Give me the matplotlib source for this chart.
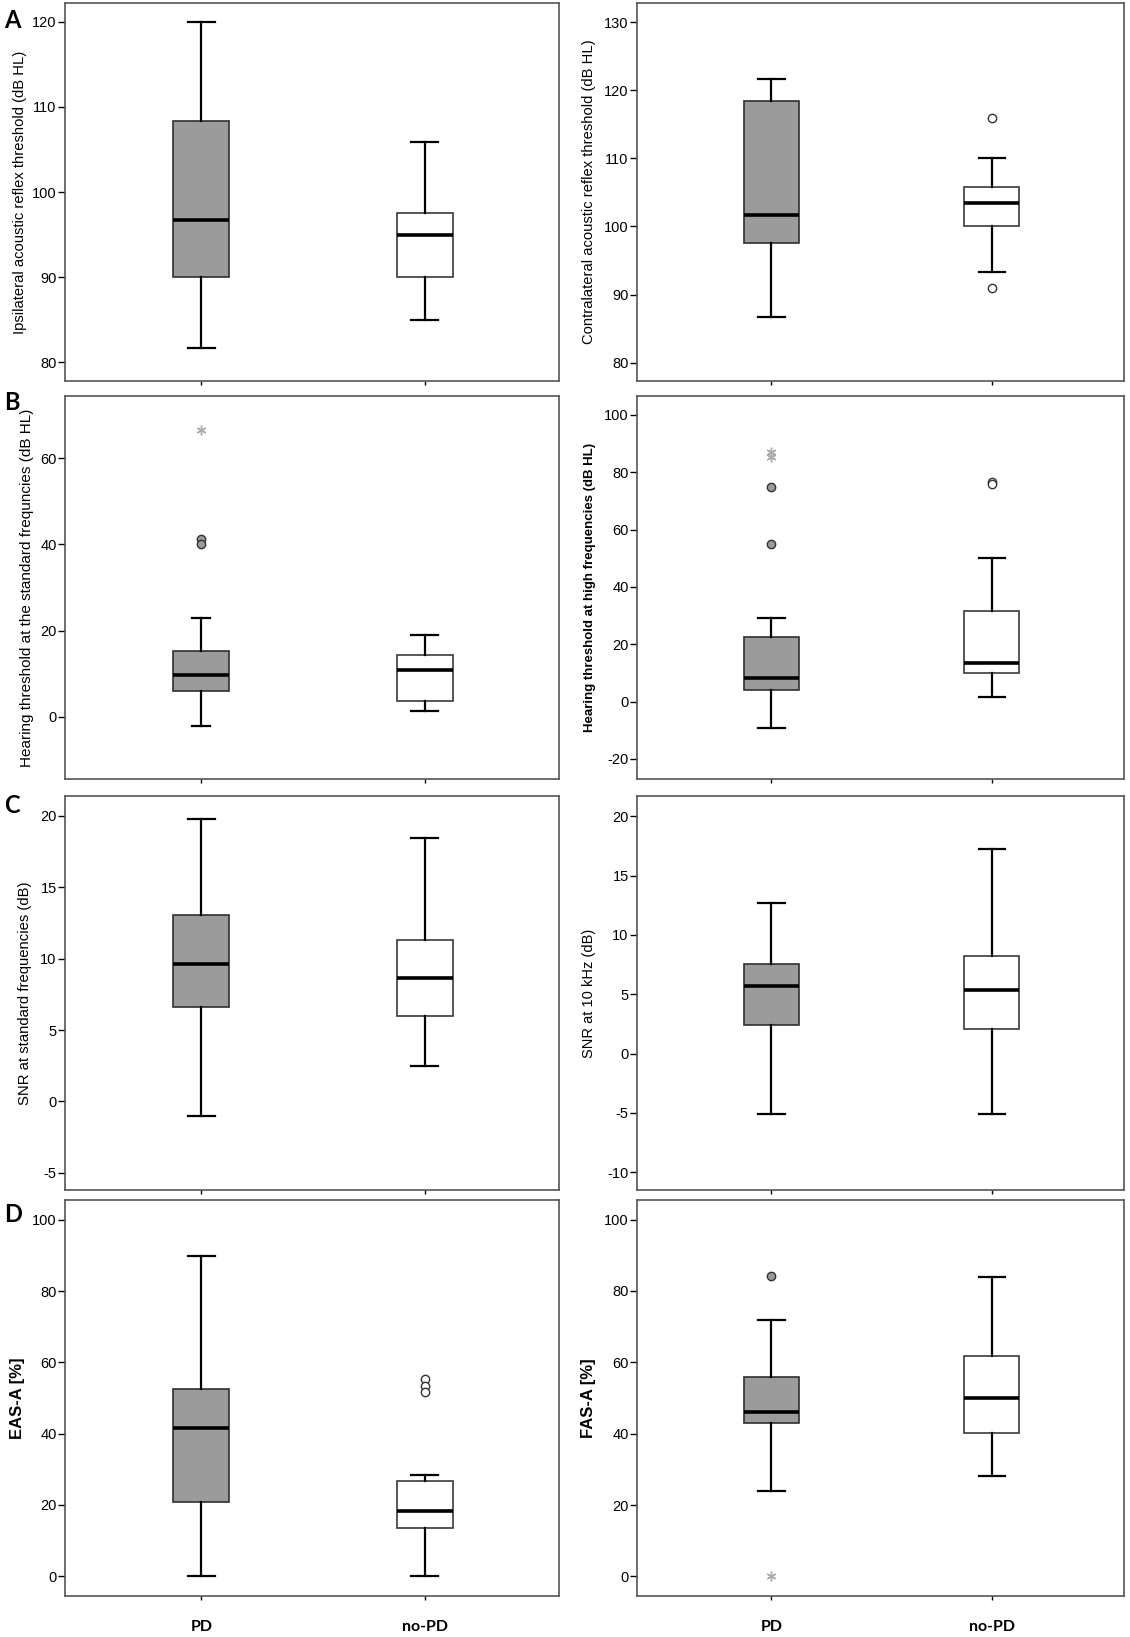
import matplotlib
matplotlib.use("Agg")
import matplotlib.pyplot as plt

plt.rcParams['font.family'] = ['Liberation Sans', 'DejaVu Sans']

groups = ["PD", "no-PD"]

# five-number summaries: [lower whisker, Q1, median, Q3, upper whisker]
ipsi_PD = [81.7, 90.0, 96.7, 108.3, 120.0]
ipsi_noPD = [85.0, 90.0, 95.0, 97.55, 105.85]
contra_PD = [86.7, 97.6, 101.7, 118.4, 121.6]
contra_noPD = [93.35, 100.0, 103.4, 105.8, 110.0]
contra_noPD_out = [115.9, 90.9]

hstd_PD = [-2.2, 5.96, 9.75, 15.25, 22.85]
hstd_PD_out = [41.3, 40.0]
hstd_PD_ext = [66.6]
hstd_noPD = [1.2, 3.7, 10.8, 14.3, 19.0]

hhigh_PD = [-9.2, 4.2, 8.3, 22.6, 29.2]
hhigh_PD_out = [75.0, 55.0]
hhigh_PD_ext = [86.9, 85.3]
hhigh_noPD = [1.7, 10.1, 13.4, 31.75, 50.05]
hhigh_noPD_out = [76.7, 75.8]

snrstd_PD = [-1.05, 6.61, 9.61, 13.08, 19.8]
snrstd_noPD = [2.5, 5.96, 8.65, 11.3, 18.45]
snr10_PD = [-5.06, 2.42, 5.67, 7.58, 12.72]
snr10_noPD = [-5.06, 2.1, 5.34, 8.2, 17.2]

eas_PD = [0.0, 20.8, 41.7, 52.5, 90.0]
eas_noPD = [0.0, 13.4, 18.4, 26.8, 28.3]
eas_noPD_out = [55.2, 53.4, 51.7]
fas_PD = [24.0, 43.0, 46.0, 56.0, 71.9]
fas_PD_out = [84.1]
fas_PD_ext = [0.0]
fas_noPD = [28.1, 40.1, 50.1, 61.9, 84.0]

ylabels = {
    "A1": "Ipsilateral acoustic reflex threshold (dB HL)",
    "A2": "Contralateral acoustic reflex threshold (dB HL)",
    "B1": "Hearing threshold at the standard frequncies (dB HL)",
    "B2": "Hearing threshold at high frequencies (dB HL)",
    "C1": "SNR at standard frequencies (dB)",
    "C2": "SNR at 10 kHz (dB)",
    "D1": "EAS-A [%]",
    "D2": "FAS-A [%]",
}

W, H = 1130, 1637
fig = plt.figure(figsize=(W / 100, H / 100), dpi=100)


def rect(x0, x1, y0, y1):
    return [x0 / W, 1 - y1 / H, (x1 - x0) / W, (y1 - y0) / H]


LX = (65, 559)
RX = (637, 1124)
rows = [(3, 381), (396, 779), (796, 1190), (1200, 1596)]

panels = [
    ("A1", 0, 0, ipsi_PD, ipsi_noPD, [], [], [], (77.8, 122.2), range(80, 121, 10),
     dict(size=10.6), -0.077, 0.12),
    ("A2", 1, 0, contra_PD, contra_noPD, [], [], contra_noPD_out, (77.3, 132.8), range(80, 131, 10),
     dict(size=10.6), -0.084, 0.12),
    ("B1", 0, 1, hstd_PD, hstd_noPD, hstd_PD_out, hstd_PD_ext, [], (-14.5, 74.5), range(0, 61, 20),
     dict(size=11), -0.063, 0.08),
    ("B2", 1, 1, hhigh_PD, hhigh_noPD, hhigh_PD_out, hhigh_PD_ext, hhigh_noPD_out, (-27, 106.6),
     range(-20, 101, 20), dict(size=9.5, weight='bold'), -0.084, 0.12),
    ("C1", 0, 2, snrstd_PD, snrstd_noPD, [], [], [], (-6.2, 21.4), range(-5, 21, 5),
     dict(size=10.7), -0.067, 0.12),
    ("C2", 1, 2, snr10_PD, snr10_noPD, [], [], [], (-11.5, 21.7), range(-10, 21, 5),
     dict(size=10.5), -0.084, 0.12),
    ("D1", 0, 3, eas_PD, eas_noPD, [], [], eas_noPD_out, (-5.6, 105.6), range(0, 101, 20),
     dict(size=12, weight='bold'), -0.081, 0.12),
    ("D2", 1, 3, fas_PD, fas_noPD, fas_PD_out, fas_PD_ext, [], (-5.5, 105.5), range(0, 101, 20),
     dict(size=12, weight='bold'), -0.084, 0.12),
]

letters = {0: ("A", 21), 1: ("B", 403), 2: ("C", 806), 3: ("D", 1215)}

for key, col, row, pd_s, npd_s, pd_out, pd_ext, npd_out, ylim, ticks, lp, lx, capw in panels:
    xs = LX if col == 0 else RX
    ax = fig.add_axes(rect(xs[0], xs[1], rows[row][0], rows[row][1]))
    stats = []
    for s, name in zip([pd_s, npd_s], groups):
        stats.append(dict(whislo=s[0], q1=s[1], med=s[2], q3=s[3], whishi=s[4], label=name))
    res = ax.bxp(stats, positions=[1, 2], widths=0.25, capwidths=[capw, 0.12],
                 patch_artist=True, showfliers=False,
                 boxprops=dict(linewidth=1.2),
                 whiskerprops=dict(color='black', linewidth=1.6),
                 capprops=dict(color='black', linewidth=1.6),
                 medianprops=dict(color='black', linewidth=2.6, solid_capstyle='butt'))
    res['boxes'][0].set_facecolor('#9b9b9b')
    res['boxes'][0].set_edgecolor('#303030')
    res['boxes'][1].set_facecolor('white')
    res['boxes'][1].set_edgecolor('#3a3a3a')
    if pd_out:
        ax.plot([1] * len(pd_out), pd_out, linestyle='none', marker='o', markersize=6,
                markerfacecolor='#9b9b9b', markeredgecolor='#333333', markeredgewidth=1.0)
    if pd_ext:
        ax.plot([1] * len(pd_ext), pd_ext, linestyle='none', marker=(6, 2, 0), markersize=7,
                markeredgecolor='#aaaaaa', markeredgewidth=1.0)
    if npd_out:
        ax.plot([2] * len(npd_out), npd_out, linestyle='none', marker='o', markersize=6,
                markerfacecolor='white', markeredgecolor='#333333', markeredgewidth=1.0)
    ax.set_xlim(0.39, 2.6)
    ax.set_ylim(*ylim)
    ax.set_yticks(list(ticks))
    ax.set_yticklabels([str(t) for t in ticks], fontsize=10.5)
    ax.tick_params(axis='y', direction='out', length=5, width=1, pad=1, colors='black')
    ax.set_xticks([1, 2])
    if row == 3:
        ax.set_xticklabels(groups, fontsize=11.5, fontweight='bold', family=['Lato', 'DejaVu Sans'])
        ax.tick_params(axis='x', direction='out', length=3, width=1, pad=14, colors='black')
    else:
        ax.set_xticklabels([])
        ax.tick_params(axis='x', direction='out', length=3, width=1, colors='black')
    for sp in ax.spines.values():
        sp.set_color('#555555')
        sp.set_linewidth(1.2)
    ax.set_ylabel(ylabels[key], **lp)
    ax.yaxis.set_label_coords(lx, 0.5)
    if col == 0:
        lt, ly = letters[row]
        fig.text(4 / W, 1 - ly / H, lt, fontsize=17, fontweight='bold', va='center', ha='left',
                 family=['Lato', 'DejaVu Sans'])

fig.savefig("out.png", dpi=100)
